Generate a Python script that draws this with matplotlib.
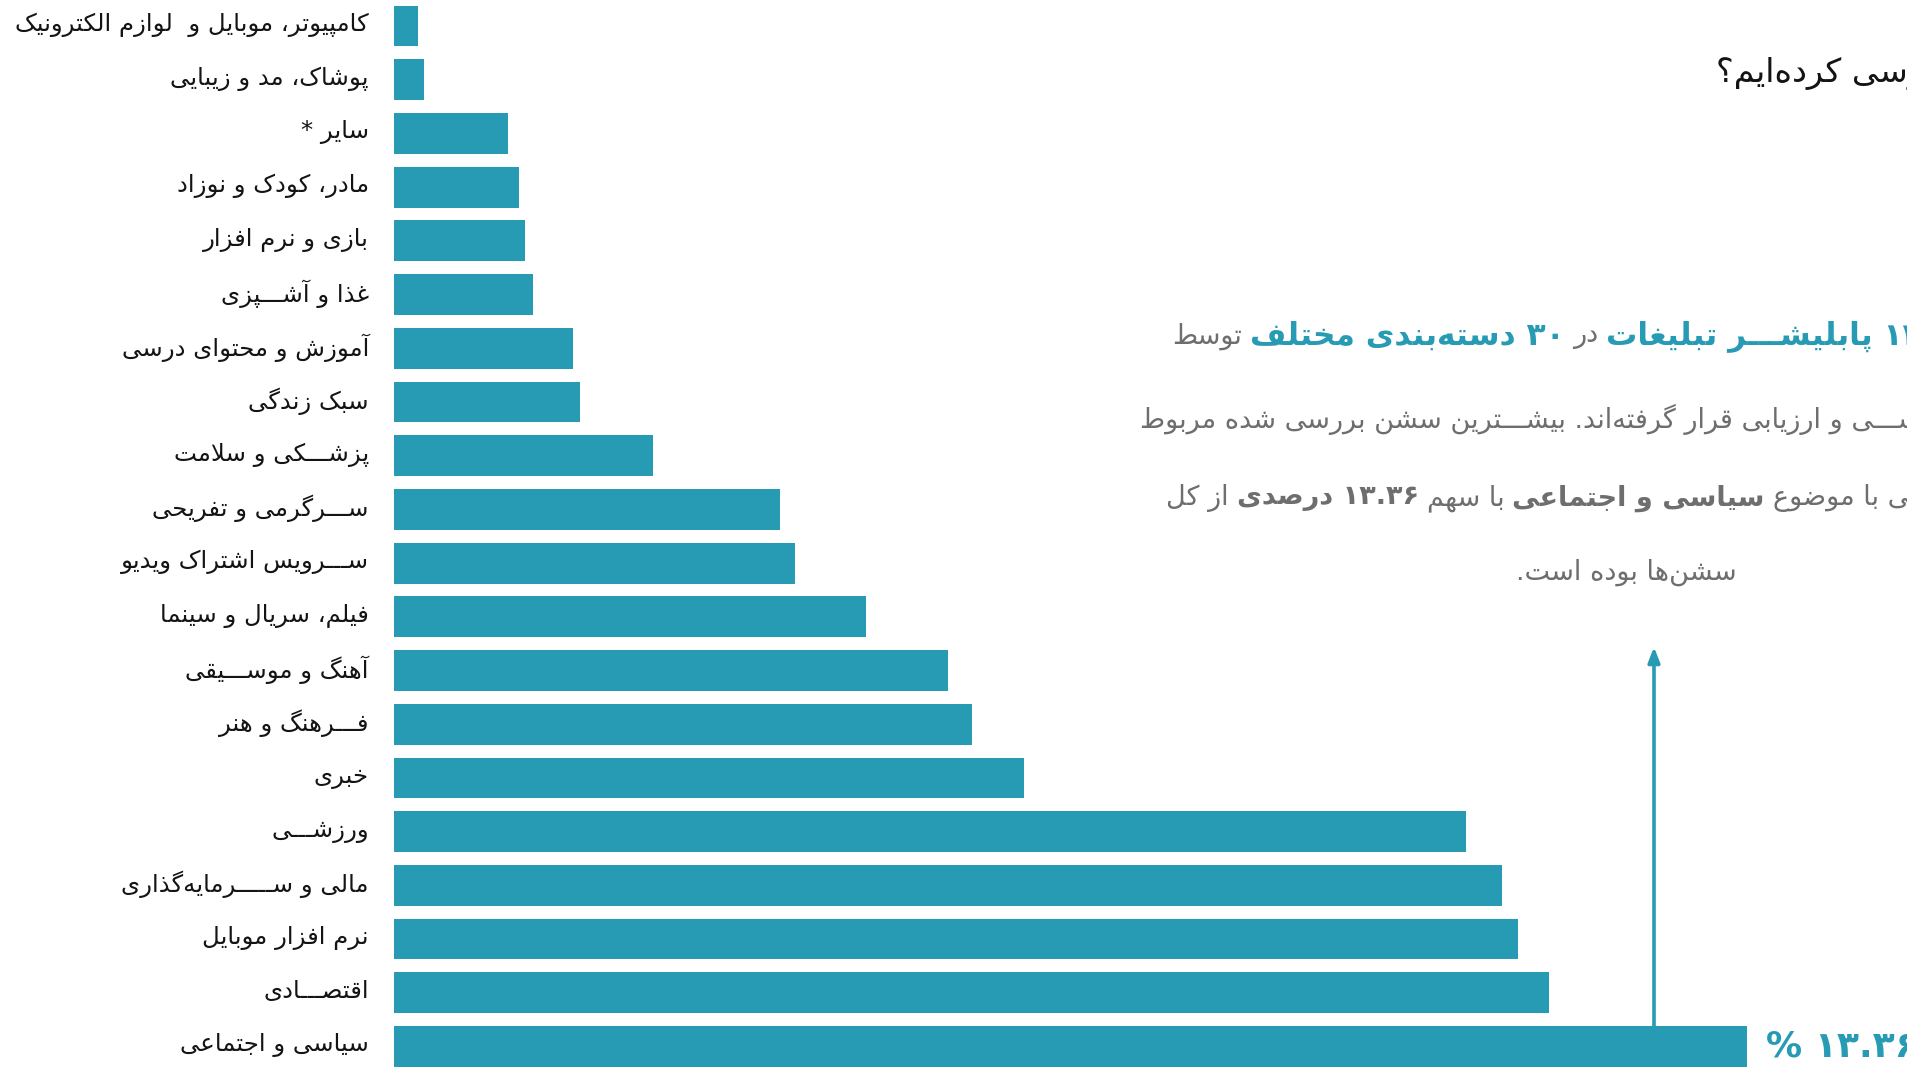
import re
import matplotlib
matplotlib.use("Agg")
import matplotlib.pyplot as plt
from matplotlib.transforms import ScaledTranslation

# share of sessions per publisher category (percent), bottom bar first
categories = [
    "سیاسی و اجتماعی",
    "اقتصـــادی",
    "نرم افزار موبایل",
    "مالی و ســـــرمایه‌گذاری",
    "ورزشـــی",
    "خبری",
    "فـــرهنگ و هنر",
    "آهنگ و موســـیقی",
    "فیلم، سریال و سینما",
    "ســـرویس اشتراک ویدیو",
    "ســـرگرمی و تفریحی",
    "پزشـــکی و سلامت",
    "سبک زندگی",
    "آموزش و محتوای درسی",
    "غذا و آشـــپزی",
    "بازی و نرم افزار",
    "مادر، کودک و نوزاد",
    "سایر *",
    "پوشاک، مد و زیبایی",
    "کامپیوتر، موبایل و  لوازم الکترونیک",
]
shares = [13.36, 11.40, 11.10, 10.94, 10.58, 6.22, 5.71, 5.47, 4.66, 3.96,
          3.81, 2.56, 1.84, 1.77, 1.37, 1.29, 1.23, 1.13, 0.30, 0.24]

n_publishers = 12
n_categories = 30

TEAL = "#279bb4"
GRAY = "#6e6e6e"
INK = "#141414"

# ---- minimal arabic/persian shaping (presentation forms) + rtl ordering ----
# char -> (first presentation-form code point, number of forms)
FORMS = {
    'ا': (0xFE8D, 2), 'آ': (0xFE81, 2), 'أ': (0xFE83, 2), 'إ': (0xFE87, 2),
    'ؤ': (0xFE85, 2), 'ئ': (0xFE89, 4), 'ب': (0xFE8F, 4), 'ة': (0xFE93, 2),
    'ت': (0xFE95, 4), 'ث': (0xFE99, 4), 'ج': (0xFE9D, 4), 'ح': (0xFEA1, 4),
    'خ': (0xFEA5, 4), 'د': (0xFEA9, 2), 'ذ': (0xFEAB, 2), 'ر': (0xFEAD, 2),
    'ز': (0xFEAF, 2), 'س': (0xFEB1, 4), 'ش': (0xFEB5, 4), 'ص': (0xFEB9, 4),
    'ض': (0xFEBD, 4), 'ط': (0xFEC1, 4), 'ظ': (0xFEC5, 4), 'ع': (0xFEC9, 4),
    'غ': (0xFECD, 4), 'ف': (0xFED1, 4), 'ق': (0xFED5, 4), 'ك': (0xFED9, 4),
    'ل': (0xFEDD, 4), 'م': (0xFEE1, 4), 'ن': (0xFEE5, 4), 'ه': (0xFEE9, 4),
    'و': (0xFEED, 2), 'ي': (0xFEF1, 4), 'پ': (0xFB56, 4), 'چ': (0xFB7A, 4),
    'ژ': (0xFB8A, 2), 'ک': (0xFB8E, 4), 'گ': (0xFB92, 4), 'ی': (0xFBFC, 4),
}
TATWEEL = 'ـ'


def joins_next(c):
    return c == TATWEEL or (c in FORMS and FORMS[c][1] == 4)


def joins_prev(c):
    return c == TATWEEL or c in FORMS


def shape(s):
    out = []
    i = 0
    while i < len(s):
        c = s[i]
        prev = s[i - 1] if i > 0 else ''
        nxt = s[i + 1] if i + 1 < len(s) else ''
        if c not in FORMS:
            out.append(c)
            i += 1
            continue
        if c == 'ل' and nxt in ('ا', 'آ'):
            base = 0xFEFB if nxt == 'ا' else 0xFEF5
            out.append(chr(base + (1 if joins_next(prev) else 0)))
            i += 2
            continue
        a = joins_next(prev)
        b = joins_next(c) and joins_prev(nxt)
        start, k = FORMS[c]
        if k == 2:
            form = 1 if a else 0
        else:
            form = (3 if b else 1) if a else (2 if b else 0)
        out.append(chr(start + form))
        i += 1
    return ''.join(out).replace('\u200c', '')


def rtl(s):
    tokens = re.findall(r'[0-9۰-۹]+(?:\.[0-9۰-۹]+)*|.', shape(s))
    return ''.join(reversed(tokens))


def fa(x):
    return str(x).translate(str.maketrans("0123456789", "۰۱۲۳۴۵۶۷۸۹"))


# ---- figure ----
W, H = 1908, 1067
fig = plt.figure(figsize=(W / 100, H / 100), dpi=100)
fig.patch.set_facecolor("white")
plt.rcParams['font.family'] = ['DejaVu Sans']

left_px = 394
px_per_unit = 101.3
bar_pitch = 53.7
ax = fig.add_axes([left_px / W, 0, 1 - left_px / W, 1])
ax.set_xlim(0, (W - left_px) / px_per_unit)
ax.set_ylim(-20.5 / bar_pitch, 19 + 26 / bar_pitch)

ypos = list(range(len(categories)))
ax.barh(ypos, shares, height=0.76, color=TEAL, edgecolor="none")

ax.set_yticks(ypos)
ax.set_yticklabels([rtl(c) for c in categories], fontsize=17.6, color=INK)
ax.tick_params(axis="y", length=0, pad=18)
lift = ScaledTranslation(0, 4 / 100, fig.dpi_scale_trans)
for lbl in ax.get_yticklabels():
    lbl.set_transform(lbl.get_transform() + lift)
ax.set_xticks([])
for sp in ax.spines.values():
    sp.set_visible(False)

# value label and arrow on the leading category
top = shares[0]
ax.text(top + 0.18, 0, rtl(f"{fa(top)} %"), color=TEAL, fontsize=26,
        fontweight="bold", ha="left", va="center")
arrow_x = (1654 - left_px) / px_per_unit
ax.annotate("", xy=(arrow_x, 1 - 647 / H), xycoords=("data", "figure fraction"),
            xytext=(arrow_x, 0.38), textcoords="data",
            arrowprops=dict(arrowstyle="-|>,head_length=0.9,head_width=0.35",
                            color=TEAL, lw=2.6, shrinkA=0, shrinkB=0))


def rich_line(x_px, y_px, parts, gap_px=8):
    # parts are given in reading (right-to-left) order
    r = fig.canvas.get_renderer()
    x = x_px
    for text, color, weight, size in reversed(parts):
        t = fig.text(x / W, 1 - y_px / H, rtl(text), color=color, fontsize=size,
                     fontweight=weight, ha="left", va="center")
        x += t.get_window_extent(r).width + gap_px


fig.text(1716 / W, 1 - 73 / H, rtl("چه پابلیشرهایی را بررسی کرده‌ایم؟"),
         color=INK, fontsize=24, ha="left", va="center")

BODY = 19.5
rich_line(1172, 336, [
    (f"{fa(n_publishers)} پابلیشـــر تبلیغات", TEAL, "bold", 22.5),
    ("در", GRAY, "normal", BODY),
    (f"{fa(n_categories)} دسته‌بندی مختلف", TEAL, "bold", 22.5),
    ("توسط", GRAY, "normal", BODY),
])
rich_line(1140, 419, [
    ("بررســـی و ارزیابی قرار گرفته‌اند. بیشـــترین سشن بررسی شده مربوط", GRAY, "normal", BODY),
])
rich_line(1166, 498, [
    ("سشن‌هایی با موضوع", GRAY, "normal", BODY),
    ("سیاسی و اجتماعی", GRAY, "bold", BODY),
    ("با سهم", GRAY, "normal", BODY),
    (f"{fa(top)} درصدی", GRAY, "bold", BODY),
    ("از کل", GRAY, "normal", BODY),
])
fig.text(1626 / W, 1 - 572 / H, rtl("سشن‌ها بوده است."), color=GRAY,
         fontsize=BODY, ha="center", va="center")

fig.savefig("out.png", dpi=100, facecolor="white")
